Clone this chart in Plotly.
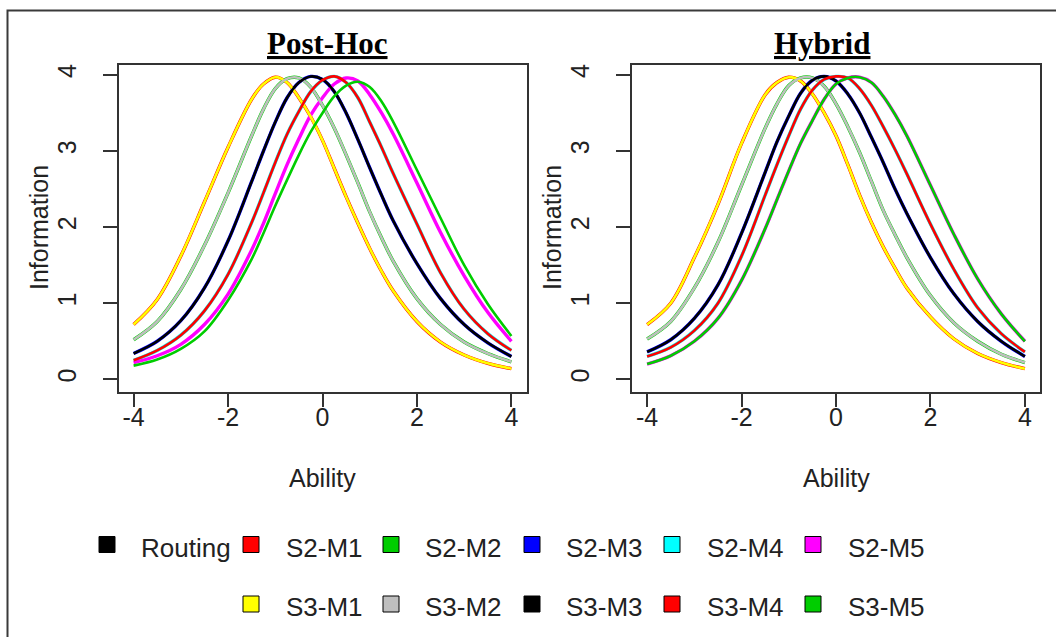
import plotly.graph_objects as go

# ---------------- data ----------------
ability = [-4, -3.5, -3, -2.5, -2, -1.5, -1.25, -1, -0.75, -0.5, -0.25, 0,
           0.25, 0.5, 0.75, 1, 1.25, 1.5, 2, 2.5, 3, 3.5, 4]

# Post-Hoc panel
ph_s3_m1 = [0.72, 1.05, 1.62, 2.33, 3.05, 3.68, 3.88, 3.97, 3.90, 3.70, 3.45, 3.14,
            2.77, 2.40, 2.05, 1.72, 1.42, 1.16, 0.76, 0.49, 0.32, 0.21, 0.14]
ph_s3_m2 = [0.52, 0.76, 1.18, 1.76, 2.45, 3.20, 3.55, 3.82, 3.95, 3.96, 3.84, 3.60,
            3.30, 2.95, 2.58, 2.20, 1.86, 1.55, 1.06, 0.72, 0.49, 0.34, 0.23]
ph_s3_m3 = [0.34, 0.50, 0.77, 1.20, 1.82, 2.60, 3.00, 3.38, 3.70, 3.90, 3.98, 3.94,
            3.78, 3.50, 3.15, 2.78, 2.42, 2.08, 1.52, 1.06, 0.72, 0.48, 0.30]
ph_s3_m4 = [0.25, 0.38, 0.58, 0.90, 1.38, 2.06, 2.45, 2.85, 3.22, 3.52, 3.78, 3.93,
            3.98, 3.90, 3.70, 3.38, 3.05, 2.70, 2.04, 1.40, 0.92, 0.60, 0.38]
ph_s3_m5 = [0.18, 0.26, 0.40, 0.63, 1.04, 1.58, 1.92, 2.28, 2.62, 2.95, 3.25, 3.50,
            3.72, 3.86, 3.91, 3.84, 3.65, 3.38, 2.75, 2.12, 1.50, 0.99, 0.57]
ph_s2_m1 = list(ph_s3_m1)
ph_s2_m2 = list(ph_s3_m2)
ph_s2_m3 = list(ph_s3_m3)
ph_s2_m4 = list(ph_s3_m4)
ph_s2_m5 = [0.22, 0.31, 0.46, 0.72, 1.12, 1.70, 2.05, 2.44, 2.82, 3.16, 3.47, 3.70,
            3.88, 3.96, 3.92, 3.74, 3.50, 3.22, 2.58, 1.93, 1.36, 0.88, 0.50]

# Hybrid panel
hy_s3_m1 = [0.72, 1.00, 1.60, 2.30, 3.10, 3.74, 3.90, 3.97, 3.92, 3.75, 3.50, 3.20,
            2.82, 2.42, 2.06, 1.74, 1.46, 1.20, 0.82, 0.53, 0.34, 0.22, 0.14]
hy_s3_m2 = [0.53, 0.76, 1.20, 1.80, 2.55, 3.30, 3.62, 3.86, 3.96, 3.96, 3.85, 3.62,
            3.32, 2.98, 2.60, 2.22, 1.90, 1.60, 1.10, 0.74, 0.50, 0.33, 0.22]
hy_s3_m3 = [0.36, 0.52, 0.80, 1.24, 1.92, 2.72, 3.12, 3.46, 3.76, 3.93, 3.98, 3.92,
            3.75, 3.50, 3.18, 2.85, 2.50, 2.18, 1.60, 1.12, 0.76, 0.50, 0.30]
hy_s3_m4 = [0.30, 0.42, 0.64, 1.00, 1.62, 2.42, 2.82, 3.20, 3.55, 3.80, 3.94, 3.98,
            3.96, 3.82, 3.60, 3.32, 3.02, 2.70, 2.04, 1.44, 0.94, 0.60, 0.36]
hy_s3_m5 = [0.20, 0.31, 0.50, 0.80, 1.30, 1.98, 2.36, 2.74, 3.10, 3.40, 3.68, 3.88,
            3.96, 3.97, 3.90, 3.72, 3.48, 3.20, 2.55, 1.90, 1.32, 0.86, 0.50]
hy_s2_m1 = list(hy_s3_m1)
hy_s2_m2 = list(hy_s3_m2)
hy_s2_m3 = list(hy_s3_m3)
hy_s2_m4 = list(hy_s3_m4)
hy_s2_m5 = list(hy_s3_m5)

series_names = ["S2-M1", "S2-M2", "S2-M3", "S2-M4", "S2-M5",
                "S3-M1", "S3-M2", "S3-M3", "S3-M4", "S3-M5"]
series_colors = ["#FF0000", "#00CD00", "#0000FF", "#00FFFF", "#FF00FF",
                 "#FFFF00", "#BEBEBE", "#000000", "#FF0000", "#00CD00"]
posthoc = [ph_s2_m1, ph_s2_m2, ph_s2_m3, ph_s2_m4, ph_s2_m5,
           ph_s3_m1, ph_s3_m2, ph_s3_m3, ph_s3_m4, ph_s3_m5]
hybrid = [hy_s2_m1, hy_s2_m2, hy_s2_m3, hy_s2_m4, hy_s2_m5,
          hy_s3_m1, hy_s3_m2, hy_s3_m3, hy_s3_m4, hy_s3_m5]

legend_labels = ["Routing"] + series_names
legend_colors = ["#000000"] + series_colors

panel_titles = ["Post-Hoc", "Hybrid"]
x_ticks = [-4, -2, 0, 2, 4]
x_ticktext = ["-4", "-2", "0", "2", "4"]
y_ticks = [0, 1, 2, 3, 4]

# ---------------- figure ----------------
W, H = 1056, 637
SANS = "Liberation Sans, Arial, sans-serif"
SERIF = "Liberation Serif, Times New Roman, serif"


def px(v):
    return v / W


def py(v):
    return 1 - v / H


fig = go.Figure()

for data, xa, ya in [(posthoc, "x", "y"), (hybrid, "x2", "y2")]:
    for i, (vals, col) in enumerate(zip(data, series_colors)):
        is_s2 = i < 5
        fig.add_trace(go.Scatter(
            x=ability, y=vals, mode="lines", xaxis=xa, yaxis=ya,
            line=dict(color=col, width=3.4 if is_s2 else 2.6, shape="spline", smoothing=1.0),
            name=series_names[i], showlegend=False, hoverinfo="x+y+name"))

box_x = [(118.5, 526.5), (632.0, 1040.0)]
box_y = (65.0, 391.5)

axis_common = dict(
    showgrid=False, zeroline=False, showline=True, mirror=True,
    linecolor="#333333", linewidth=1.6,
    ticks="outside", ticklen=14, tickwidth=1.6, tickcolor="#333333",
    tickfont=dict(family=SANS, size=25, color="#222222"),
)

layout_axes = {}
for k, (x0, x1) in enumerate(box_x):
    sx = "" if k == 0 else str(k + 1)
    layout_axes["xaxis" + sx] = dict(
        axis_common, domain=[px(x0), px(x1)], range=[-4.32, 4.32],
        tickvals=x_ticks, ticktext=x_ticktext, anchor="y" + sx,
        ticklabelstandoff=-11)
    layout_axes["yaxis" + sx] = dict(
        axis_common, domain=[py(box_y[1]), py(box_y[0])], range=[-0.16, 4.13],
        tickvals=y_ticks, tickangle=-90, anchor="x" + sx,
        ticklabelstandoff=17)

fig.update_layout(
    width=W, height=H, autosize=False,
    margin=dict(l=0, r=0, t=0, b=0),
    paper_bgcolor="white", plot_bgcolor="white",
    showlegend=False,
    **layout_axes,
)

annotations = []
# panel titles
for title, cx in zip(panel_titles, [327, 822]):
    annotations.append(dict(
        text="<b><u>" + title + "</u></b>", x=px(cx), y=py(43), xref="paper", yref="paper",
        showarrow=False, xanchor="center", yanchor="middle",
        font=dict(family=SERIF, size=31, color="#000000")))
# axis titles
for cx_info, cx_abil in [(39, 322.5), (552, 836)]:
    annotations.append(dict(
        text="Information", x=px(cx_info), y=py(228), xref="paper", yref="paper",
        showarrow=False, textangle=-90, xanchor="center", yanchor="middle",
        font=dict(family=SANS, size=25, color="#222222")))
    annotations.append(dict(
        text="Ability", x=px(cx_abil), y=py(478), xref="paper", yref="paper",
        showarrow=False, xanchor="center", yanchor="middle",
        font=dict(family=SANS, size=25, color="#222222")))

shapes = []
# outer frame
shapes.append(dict(type="rect", xref="paper", yref="paper",
                   x0=px(7.5), x1=1.02, y0=-0.02, y1=py(10.5),
                   line=dict(color="#3a3a3a", width=2), fillcolor="rgba(0,0,0,0)"))

# legend (two rows)
col_box_x = [99, 243, 383, 524, 664, 805]
col_text_x = [139, 284, 423, 564, 705, 846]
row_y = [544.5, 604.0]
row_text_y = [547.5, 607.0]
slots = [(0, c) for c in range(6)] + [(1, c) for c in range(1, 6)]
for (r, c), lab, colr in zip(slots, legend_labels, legend_colors):
    bx = col_box_x[c]
    by = row_y[r]
    shapes.append(dict(type="rect", xref="paper", yref="paper",
                       x0=px(bx), x1=px(bx + 16), y0=py(by + 8), y1=py(by - 8),
                       line=dict(color="#000000", width=1), fillcolor=colr))
    annotations.append(dict(
        text=lab, x=px(col_text_x[c]), y=py(row_text_y[r]), xref="paper", yref="paper",
        showarrow=False, xanchor="left", yanchor="middle",
        font=dict(family=SANS, size=26, color="#222222")))

fig.update_layout(annotations=annotations, shapes=shapes)

fig.write_html("out.html")
